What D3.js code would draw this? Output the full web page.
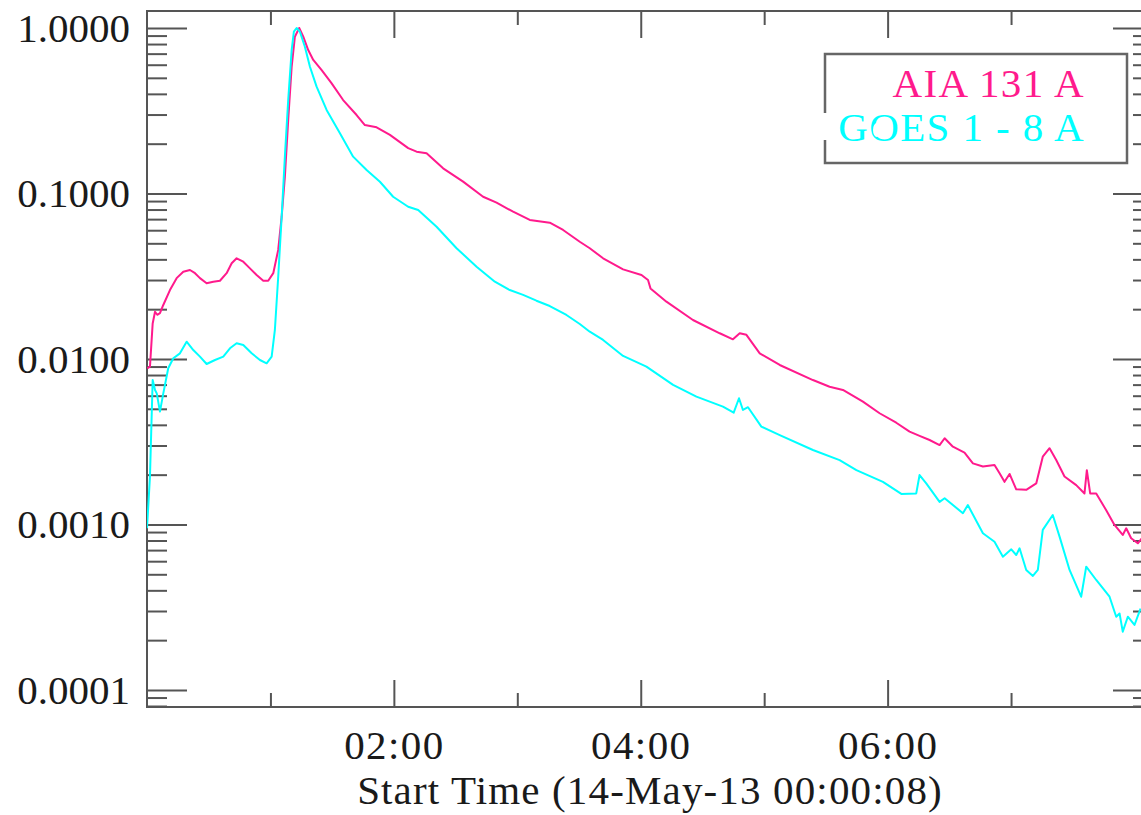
<!DOCTYPE html>
<html><head><meta charset="utf-8">
<script src="https://cdn.jsdelivr.net/npm/d3@7"></script>
<style>body{margin:0;background:#fff;overflow:hidden;} svg{display:block;}</style>
</head><body><svg id="c" width="1141" height="815"></svg>
<script>
// ---- data (hours since 00:00:08, normalised flux) ----
const aiaHours = [0.002,0.024,0.046,0.065,0.083,0.105,0.132,0.186,0.240,0.294,
 0.348,0.389,0.429,0.483,0.537,0.591,0.645,0.686,0.726,0.780,
 0.834,0.888,0.942,0.982,1.023,1.063,1.091,1.117,1.144,1.172,
 1.198,1.233,1.266,1.306,1.347,1.415,1.496,1.589,1.698,1.765,
 1.860,1.968,2.116,2.184,2.265,2.399,2.561,2.723,2.832,2.966,
 3.101,3.263,3.371,3.506,3.587,3.695,3.857,4.006,4.059,4.079,
 4.208,4.423,4.640,4.747,4.802,4.856,4.964,5.126,5.395,5.530,
 5.638,5.800,5.935,6.070,6.178,6.259,6.340,6.421,6.462,6.529,
 6.623,6.691,6.772,6.866,6.907,6.947,6.988,7.042,7.123,7.204,
 7.257,7.312,7.366,7.433,7.528,7.595,7.614,7.641,7.690,7.771,
 7.838,7.905,7.933,7.973,8.027,8.081];
const aiaFlux = [0.00879,0.00898,0.0164,0.0193,0.0185,0.0189,0.0212,0.0261,0.0308,0.0337,
 0.0345,0.0330,0.0308,0.0287,0.0293,0.0297,0.0330,0.0379,0.0406,0.0387,
 0.0353,0.0322,0.0297,0.0297,0.0330,0.0456,0.0724,0.126,0.278,0.583,
 0.886,1.0,0.886,0.736,0.641,0.557,0.463,0.367,0.298,0.259,
 0.251,0.226,0.188,0.179,0.175,0.142,0.118,0.0956,0.0880,0.0776,
 0.0692,0.0666,0.0602,0.0511,0.0467,0.0406,0.0348,0.0322,0.0300,0.0267,
 0.0222,0.0172,0.0143,0.01315,0.0143,0.0140,0.01082,0.0092,0.00746,0.0068,
 0.0065,0.00552,0.0047,0.00412,0.00364,0.00343,0.00324,0.00302,0.00332,0.00295,
 0.00272,0.00234,0.00224,0.00229,0.00204,0.00181,0.00202,0.00163,0.00162,0.00177,
 0.00257,0.00289,0.00245,0.00195,0.00173,0.00154,0.00213,0.00154,0.00154,0.00122,
 0.000993,0.000864,0.000948,0.000826,0.00077,0.000864];
const goesHours = [0.0,0.024,0.046,0.065,0.079,0.105,0.132,0.172,0.213,0.267,
 0.321,0.375,0.429,0.483,0.551,0.618,0.672,0.726,0.780,0.848,
 0.915,0.969,1.010,1.036,1.063,1.091,1.117,1.144,1.172,1.190,
 1.212,1.239,1.279,1.320,1.374,1.455,1.563,1.670,1.779,1.887,
 1.994,2.116,2.197,2.346,2.508,2.670,2.818,2.939,3.047,3.155,
 3.263,3.398,3.506,3.587,3.695,3.857,4.046,4.262,4.451,4.666,
 4.753,4.796,4.828,4.869,4.977,5.126,5.395,5.611,5.747,5.962,
 6.111,6.232,6.259,6.313,6.421,6.462,6.610,6.650,6.772,6.866,
 6.934,7.002,7.042,7.069,7.123,7.177,7.217,7.257,7.338,7.393,
 7.474,7.568,7.609,7.690,7.798,7.852,7.879,7.905,7.946,8.0,8.049];
const goesFlux = [0.00095,0.00195,0.00746,0.0065,0.0062,0.00481,0.0062,0.00879,0.0101,0.01082,
 0.01272,0.01133,0.01033,0.00933,0.00986,0.01033,0.0116,0.01245,0.01215,0.01082,
 0.00986,0.00942,0.01033,0.01497,0.0314,0.0724,0.167,0.367,0.736,0.950,
 1.0,0.950,0.771,0.583,0.442,0.320,0.231,0.167,0.1387,0.1178,
 0.0956,0.0832,0.0795,0.063,0.0467,0.0361,0.0293,0.0261,0.0244,0.0225,
 0.0209,0.01845,0.01627,0.01462,0.01303,0.01043,0.00899,0.00697,0.00592,0.00515,
 0.00474,0.00579,0.00492,0.00511,0.0039,0.00347,0.00282,0.00245,0.00213,0.00181,
 0.00153,0.00154,0.00199,0.00177,0.00137,0.00144,0.00117,0.00131,0.000885,0.000787,
 0.000639,0.000708,0.000654,0.000718,0.000531,0.000489,0.000531,0.000927,0.00114,0.000844,
 0.000531,0.000366,0.000556,0.000462,0.000366,0.000277,0.00029,0.000225,0.000277,0.000247,0.00031];
const xMajorTicks = [2, 4, 6];
const xMinorTicks = [1, 3, 5, 7];
const xTickLabels = ["02:00", "04:00", "06:00"];
const yMajorTicks = [1, 0.1, 0.01, 0.001, 0.0001];
const yTickLabels = ["1.0000", "0.1000", "0.0100", "0.0010", "0.0001"];
const seriesNames = ["AIA 131 A", "GOES 1 - 8 A"];
const seriesColors = ["#ff1a8c", "#00ffff"];
const xTitle = "Start Time (14-May-13 00:00:08)";

// ---- layout ----
const L = 147, R = 1153, T = 11, B = 707;
const svg = d3.select("#c");
const x = d3.scaleLinear().domain([0, 8.15]).range([L, R]);
const y = d3.scaleLog().domain([7.89e-5, 1.267]).range([B, T]);
const axisColor = "#555";
const font = "'Liberation Serif', 'Times New Roman', serif";
const fs = 41;
const wide = "1.4px";

const yMinor = y.ticks().filter(v => !yMajorTicks.some(m => Math.abs(m - v) / m < 1e-6));

function style(g) {
  g.select(".domain").remove();
  g.selectAll(".tick line").attr("stroke", axisColor).attr("stroke-width", 2);
  g.selectAll("text").attr("font-family", font).attr("font-size", fs).attr("fill", "#1a1a1a");
}

// left
svg.append("g").attr("transform", `translate(${L},0)`)
  .call(d3.axisLeft(y).tickValues(yMajorTicks).tickSize(-40).tickPadding(17)
    .tickFormat((d, i) => yTickLabels[i])).call(style);
svg.append("g").attr("transform", `translate(${L},0)`)
  .call(d3.axisLeft(y).tickValues(yMinor).tickSize(-20).tickFormat("")).call(style);
// right
svg.append("g").attr("transform", `translate(${R},0)`)
  .call(d3.axisRight(y).tickValues(yMajorTicks).tickSize(-40).tickFormat("")).call(style);
svg.append("g").attr("transform", `translate(${R},0)`)
  .call(d3.axisRight(y).tickValues(yMinor).tickSize(-20).tickFormat("")).call(style);
// bottom
const gb = svg.append("g").attr("transform", `translate(0,${B})`)
  .call(d3.axisBottom(x).tickValues(xMajorTicks).tickSize(-27)
    .tickFormat((d, i) => xTickLabels[i])).call(style);
gb.selectAll("text").attr("y", 52).attr("dy", 0).attr("letter-spacing", wide);
svg.append("g").attr("transform", `translate(0,${B})`)
  .call(d3.axisBottom(x).tickValues(xMinorTicks).tickSize(-14).tickFormat("")).call(style);
// top
svg.append("g").attr("transform", `translate(0,${T})`)
  .call(d3.axisTop(x).tickValues(xMajorTicks).tickSize(-27).tickFormat("")).call(style);
svg.append("g").attr("transform", `translate(0,${T})`)
  .call(d3.axisTop(x).tickValues(xMinorTicks).tickSize(-14).tickFormat("")).call(style);

// frame
svg.append("rect").attr("x", L).attr("y", T).attr("width", R - L).attr("height", B - T)
  .attr("fill", "none").attr("stroke", axisColor).attr("stroke-width", 2);

// clip
svg.append("clipPath").attr("id", "plot").append("rect")
  .attr("x", L).attr("y", T).attr("width", R - L).attr("height", B - T);

const line = d3.line().x(d => x(d[0])).y(d => y(d[1]));
const series = [
  d3.zip(aiaHours, aiaFlux),
  d3.zip(goesHours, goesFlux)
];
series.forEach((s, i) => {
  svg.append("path").attr("clip-path", "url(#plot)").datum(s)
    .attr("d", line).attr("fill", "none")
    .attr("stroke", seriesColors[i]).attr("stroke-width", 2)
    .attr("stroke-linejoin", "round");
});

// legend
svg.append("rect").attr("x", 825).attr("y", 54).attr("width", 302).attr("height", 109)
  .attr("fill", "#fff").attr("stroke", "#666").attr("stroke-width", 2.5);
seriesNames.forEach((n, i) => {
  svg.append("text").attr("x", 1085).attr("y", 97 + i * 44)
    .attr("text-anchor", "end").attr("font-family", font).attr("font-size", fs)
    .attr("letter-spacing", wide)
    .attr("fill", seriesColors[i]).text(n);
});
// white blemishes present in the original legend
svg.append("rect").attr("x", 820).attr("y", 113).attr("width", 9).attr("height", 27).attr("fill", "#fff");
svg.append("ellipse").attr("cx", 877).attr("cy", 130).attr("rx", 4).attr("ry", 7).attr("fill", "#fff");

// x title
svg.append("text").attr("x", (L + R) / 2).attr("y", 804).attr("text-anchor", "middle")
  .attr("font-family", font).attr("font-size", fs).attr("letter-spacing", "1.15px")
  .attr("fill", "#1a1a1a").text(xTitle);
</script>
</body></html>
